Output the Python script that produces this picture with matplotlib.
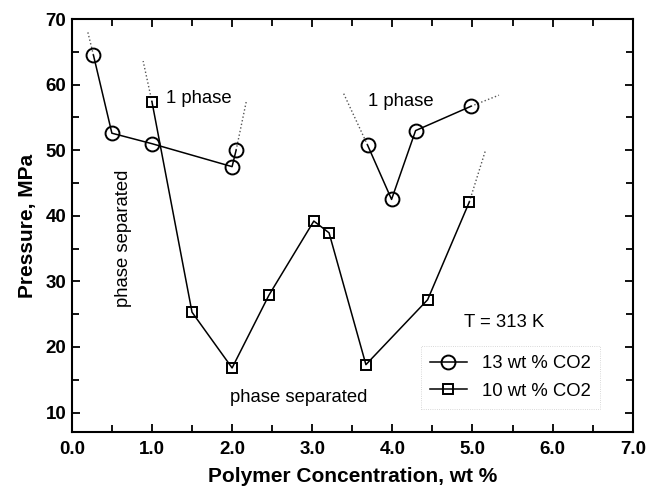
import matplotlib
matplotlib.use('Agg')
import matplotlib.pyplot as plt
from matplotlib.ticker import MultipleLocator, FormatStrFormatter

plt.rcParams['font.family'] = ['Liberation Sans', 'DejaVu Sans']

# 13 wt % CO2 (two branches)
circ_a_x = [0.27, 0.50, 1.00, 2.00, 2.05]
circ_a_y = [64.5, 52.6, 51.0, 47.5, 50.0]
circ_b_x = [3.69, 3.99, 4.29, 4.98]
circ_b_y = [50.8, 42.5, 53.0, 56.7]

# 10 wt % CO2
sq_x = [1.00, 1.50, 2.00, 2.46, 3.02, 3.21, 3.67, 4.44, 4.96]
sq_y = [57.4, 25.3, 16.8, 27.9, 39.2, 37.4, 17.3, 27.2, 42.1]

# dotted boundary extensions: (x0, y0, x1, y1)
guides = [
    (0.27, 64.5, 0.20, 68.0),
    (2.05, 50.0, 2.18, 57.6),
    (3.69, 50.8, 3.39, 58.7),
    (4.98, 56.7, 5.33, 58.4),
    (1.00, 57.4, 0.89, 63.6),
    (4.96, 42.1, 5.16, 49.9),
]

fig = plt.figure(figsize=(6.47, 4.90), dpi=100)
ax = fig.add_axes([0.111, 0.118, 0.867, 0.843])

circ_style = dict(color='black', linewidth=1.1, marker='o', markersize=10,
                  markerfacecolor='none', markeredgewidth=1.4)
sq_style = dict(color='black', linewidth=1.1, marker='s', markersize=6.5,
                markerfacecolor='none', markeredgewidth=1.4)

for x0, y0, x1, y1 in guides:
    ax.plot([x0, x1], [y0, y1], linestyle=':', color='#555555', linewidth=1.0)

l13, = ax.plot(circ_a_x, circ_a_y, **circ_style)
ax.plot(circ_b_x, circ_b_y, **circ_style)
l10, = ax.plot(sq_x, sq_y, **sq_style)

fs = 13.3
ax.text(1.17, 57.9, '1 phase', fontsize=fs, va='center', ha='left')
ax.text(3.70, 57.4, '1 phase', fontsize=fs, va='center', ha='left')
ax.text(0.64, 36.6, 'phase separated', fontsize=fs, rotation=90,
        va='center', ha='center')
ax.text(1.97, 12.3, 'phase separated', fontsize=fs, va='center', ha='left')
ax.text(4.90, 23.8, 'T = 313 K', fontsize=fs, va='center', ha='left')

leg = ax.legend([l13, l10], ['13 wt % CO2', '10 wt % CO2'], loc='upper left',
                bbox_to_anchor=(0.622, 0.208), borderaxespad=0, fontsize=fs,
                frameon=True, fancybox=False, handlelength=2.0,
                handletextpad=0.8, borderpad=0.5, labelspacing=0.55,
                framealpha=1.0)
leg.get_frame().set_edgecolor('#cccccc')
leg.get_frame().set_linewidth(0.6)
leg.get_frame().set_linestyle(':')

ax.set_xlim(0, 7)
ax.set_ylim(7, 70)
ax.xaxis.set_major_locator(MultipleLocator(1.0))
ax.xaxis.set_minor_locator(MultipleLocator(0.5))
ax.yaxis.set_major_locator(MultipleLocator(10))
ax.yaxis.set_minor_locator(MultipleLocator(5))
ax.xaxis.set_major_formatter(FormatStrFormatter('%.1f'))
ax.set_yticks(range(10, 71, 10))

ax.tick_params(which='both', direction='in', top=True, right=True,
               width=1.3, labelsize=13.5)
ax.tick_params(which='major', length=6)
ax.tick_params(which='minor', length=5)
for lab in ax.get_xticklabels() + ax.get_yticklabels():
    lab.set_fontweight('bold')
ax.tick_params(axis='x', pad=6)
ax.tick_params(axis='y', pad=4)

for sp in ax.spines.values():
    sp.set_linewidth(1.5)

ax.set_xlabel('Polymer Concentration, wt %', fontsize=15, fontweight='bold',
              labelpad=7)
ax.set_ylabel('Pressure, MPa', fontsize=15, fontweight='bold', labelpad=6)

fig.savefig('out.png', dpi=100, facecolor='white')
